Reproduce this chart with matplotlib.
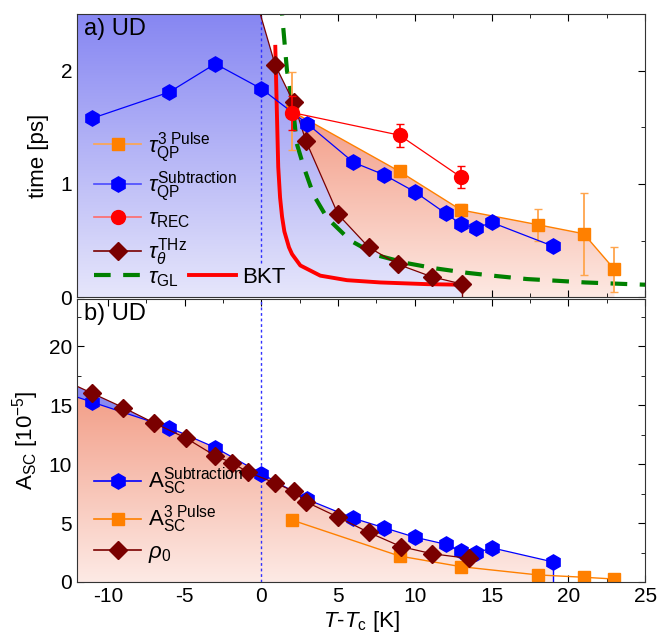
import numpy as np
import matplotlib
matplotlib.use('Agg')
import matplotlib.pyplot as plt
from matplotlib.lines import Line2D
from matplotlib.colors import LinearSegmentedColormap

plt.rcParams['font.family'] = ['Liberation Sans', 'DejaVu Sans']
plt.rcParams['mathtext.fontset'] = 'custom'
plt.rcParams['mathtext.rm'] = 'Liberation Sans'
plt.rcParams['mathtext.it'] = 'Liberation Sans:italic'
plt.rcParams['mathtext.bf'] = 'Liberation Sans:bold'
plt.rcParams['axes.unicode_minus'] = False

# ---- panel a) relaxation times ----
# tau_QP subtraction (blue hexagons)
qp_sub_x = [-11, -6, -3, 0, 3, 6, 8, 10, 12, 13, 14, 15, 19]
qp_sub_y = [1.58, 1.81, 2.06, 1.84, 1.53, 1.19, 1.08, 0.93, 0.74, 0.645, 0.61, 0.66, 0.45]
qp_sub_err = [0.02, 0.02, 0.03, 0.04, 0.03, 0.04, 0.02, 0.02, 0.02, 0.02, 0.02, 0.02, 0.02]

# tau_QP 3 pulse (orange squares)
qp_3p_x = [2, 9, 13, 18, 21, 23]
qp_3p_y = [1.64, 1.11, 0.77, 0.64, 0.56, 0.245]
qp_3p_err = [0.345, 0.05, 0.05, 0.14, 0.36, 0.2]

# tau_REC (red circles)
rec_x = [2, 9, 13]
rec_y = [1.63, 1.43, 1.06]
rec_err = [0.15, 0.1, 0.1]

# tau_theta THz (dark red diamonds), first point lies above the frame
theta_x = [-0.5, 0.9, 2.1, 2.9, 5.0, 7.0, 8.9, 11.1, 13.1]
theta_y = [2.7, 2.05, 1.72, 1.38, 0.73, 0.44, 0.29, 0.18, 0.115]

# tau_GL (green dashed)
gl_x = [1.2, 1.35, 1.67, 2.06, 2.3, 2.76, 3.41, 4.28, 5.8, 7.53, 9.49, 11.3,
        13.4, 15.35, 17.3, 19.25, 21.1, 23.0, 25.0]
gl_y = [2.7, 2.5, 2.0, 1.68, 1.36, 1.15, 0.90, 0.70, 0.50, 0.37, 0.30, 0.255,
        0.215, 0.186, 0.16, 0.145, 0.13, 0.12, 0.11]

# BKT (thick red)
bkt_x = [0.91, 1.0, 1.1, 1.22, 1.35, 1.5, 1.8, 2.0, 2.54, 3.84, 5.58, 7.75, 10.8, 13.07]
bkt_y = [2.21, 1.70, 1.15, 0.88, 0.71, 0.58, 0.44, 0.38, 0.28, 0.19, 0.15, 0.13, 0.115, 0.11]

# ---- panel b) amplitudes ----
# first point of each line sits left of the frame
asc_sub_x = [-12.5, -11, -6, -3, 0, 3, 6, 8, 10, 12, 13, 14, 15, 19]
asc_sub_y = [15.9, 15.25, 13.1, 11.4, 9.2, 7.0, 5.4, 4.6, 3.8, 3.2, 2.6, 2.45, 2.9, 1.7]

asc_3p_x = [2, 9, 13, 18, 21, 23]
asc_3p_y = [5.25, 2.2, 1.3, 0.6, 0.4, 0.25]

rho0_x = [-12.5, -11, -9, -7, -4.9, -3, -1.9, -0.85, 0.9, 2.1, 2.9, 5.0, 7.0, 9.1, 11.1, 13.5]
rho0_y = [16.9, 16.0, 14.8, 13.5, 12.2, 10.7, 10.1, 9.3, 8.4, 7.7, 6.8, 5.5, 4.2, 3.0, 2.4, 2.0]

BLUE = '#0000ff'
ORANGE = '#ff8000'
RED = '#ff0000'
DRED = '#7a0000'
GREEN = '#008000'


def grad_fill(ax, x, y, c_top, c_bot, y_top, z):
    poly = ax.fill_between(x, 0, y, facecolor='none', edgecolor='none', zorder=z)
    path = poly.get_paths()[0]
    cmap = LinearSegmentedColormap.from_list('g', [c_bot, c_top])
    grad = np.linspace(0, 1, 256).reshape(-1, 1)
    im = ax.imshow(grad, cmap=cmap, aspect='auto', origin='lower',
                   extent=[min(x), max(x), 0, y_top], zorder=z)
    im.set_clip_path(path, transform=ax.transData)


fig = plt.figure(figsize=(6.59, 6.35), dpi=100)
ax1 = fig.add_axes([0.117, 0.532, 0.862, 0.446])
ax2 = fig.add_axes([0.117, 0.0835, 0.862, 0.4455])

# ----- top panel -----
grad_fill(ax1, qp_3p_x, qp_3p_y, '#f39c86', '#fde9e3', 1.64, 1)
grad_fill(ax1, [-12.5] + theta_x, [2.7] + theta_y, '#8686f2', '#e6e6fb', 2.5, 2)
ax1.vlines(theta_x[-1], 0, theta_y[-1], color=DRED, lw=1, zorder=3)
ax1.vlines(0, 0.3, 2.5, color='#3030ff', lw=1, linestyle=(0, (2, 2)), zorder=3)

ax1.plot(gl_x, gl_y, color=GREEN, lw=3, dashes=(4, 3), zorder=4)
ax1.plot(bkt_x, bkt_y, color=RED, lw=2.8, zorder=4)

ax1.errorbar(qp_3p_x, qp_3p_y, yerr=qp_3p_err, color=ORANGE, lw=1, marker='s', ms=9,
             ecolor='#ffa54d', elinewidth=1.3, capsize=3, zorder=5)
ax1.errorbar(qp_sub_x, qp_sub_y, yerr=qp_sub_err, color=BLUE, lw=0.9, marker='h', ms=11,
             elinewidth=1, capsize=2, zorder=6)
ax1.plot(theta_x, theta_y, color=DRED, lw=0.9, marker='D', ms=9, zorder=6)
ax1.errorbar(rec_x, rec_y, yerr=rec_err, color=RED, lw=0.9, marker='o', ms=10,
             elinewidth=1.2, capsize=3, zorder=7)

ax1.set_xlim(-12, 25)
ax1.set_ylim(0, 2.5)
ax1.set_yticks([0, 1, 2])
ax1.set_yticks([0.5, 1.5, 2.5], minor=True)
ax1.set_xticks(np.arange(-10, 26, 5))
ax1.set_xticks(np.arange(-7.5, 25, 5), minor=True)
ax1.tick_params(labelbottom=False)
ax1.set_ylabel('time [ps]', fontsize=16, labelpad=8)
ax1.text(0.012, 0.985, 'a) UD', transform=ax1.transAxes, fontsize=17, va='top', zorder=9)

h1 = [Line2D([], [], color='#ffa54d', lw=1.2, marker='s', ms=9, mfc=ORANGE, mec=ORANGE),
      Line2D([], [], color='#4a4aff', lw=1.2, marker='h', ms=11, mfc=BLUE, mec=BLUE),
      Line2D([], [], color='#ff6a6a', lw=1.2, marker='o', ms=10, mfc=RED, mec=RED),
      Line2D([], [], color=DRED, lw=1.2, marker='D', ms=9, mfc=DRED, mec=DRED)]
l1 = [r'$\tau_\mathrm{QP}^\mathrm{3\ Pulse}$', r'$\tau_\mathrm{QP}^\mathrm{Subtraction}$',
      r'$\tau_\mathrm{REC}$', r'$\tau_\theta^\mathrm{THz}$']
leg1 = ax1.legend(h1, l1, loc='upper left', bbox_to_anchor=(-0.005, 0.66), frameon=False,
                  fontsize=16, handlelength=2.1, handletextpad=0.3, labelspacing=0.25)
ax1.add_artist(leg1)
leg1.set_zorder(9)
h2 = [Line2D([], [], color=GREEN, lw=3, dashes=(4, 3)), Line2D([], [], color=RED, lw=2.8)]
leg2 = ax1.legend(h2, [r'$\tau_\mathrm{GL}$', 'BKT'], loc='lower left', bbox_to_anchor=(-0.005, -0.04),
                  frameon=False, fontsize=16, ncol=2, handlelength=2.1, handletextpad=0.3,
                  columnspacing=0.5)
leg2.set_zorder(9)

# ----- bottom panel -----
grad_fill(ax2, rho0_x, rho0_y, '#8a8af0', '#8a8af0', 24, 1)
grad_fill(ax2, asc_sub_x, asc_sub_y, '#f29c85', '#fdeae5', 16.5, 2)
ax2.vlines(asc_sub_x[-1], 0, asc_sub_y[-1], color=BLUE, lw=1, zorder=3)
ax2.vlines(0, 0, 24, color='#3030ff', lw=1, linestyle=(0, (2, 2)), zorder=3)

ax2.plot(asc_3p_x, asc_3p_y, color=ORANGE, lw=1, marker='s', ms=9, zorder=5)
ax2.plot(asc_sub_x, asc_sub_y, color=BLUE, lw=0.9, marker='h', ms=11, zorder=6,
         markevery=slice(1, None))
ax2.plot(rho0_x, rho0_y, color=DRED, lw=0.9, marker='D', ms=9, zorder=7,
         markevery=slice(1, None))

ax2.set_xlim(-12, 25)
ax2.set_ylim(0, 24)
ax2.set_yticks([0, 5, 10, 15, 20])
ax2.set_yticks([2.5, 7.5, 12.5, 17.5, 22.5], minor=True)
ax2.set_xticks(np.arange(-10, 26, 5))
ax2.set_xticks(np.arange(-7.5, 25, 5), minor=True)
ax2.set_ylabel(r'A$_\mathrm{SC}$ [10$^{-5}$]', fontsize=16, labelpad=6)
ax2.set_xlabel(r'$T$-$T_\mathrm{c}$ [K]', fontsize=16, labelpad=2)
ax2.text(0.012, 0.985, 'b) UD', transform=ax2.transAxes, fontsize=17, va='top', zorder=9)

h3 = [Line2D([], [], color=BLUE, lw=1.2, marker='h', ms=11),
      Line2D([], [], color=ORANGE, lw=1.2, marker='s', ms=9),
      Line2D([], [], color=DRED, lw=1.2, marker='D', ms=9)]
l3 = [r'A$_\mathrm{SC}^\mathrm{Subtraction}$', r'A$_\mathrm{SC}^\mathrm{3\ Pulse}$', r'$\rho_0$']
leg3 = ax2.legend(h3, l3, loc='lower left', bbox_to_anchor=(-0.005, -0.01), frameon=False,
                  fontsize=16, handlelength=2.1, handletextpad=0.3, labelspacing=0.3)
leg3.set_zorder(9)

for ax in (ax1, ax2):
    ax.tick_params(which='both', direction='in', top=True, right=True, labelsize=15)
    ax.tick_params(which='major', length=5)
    ax.tick_params(which='minor', length=3)
    for s in ax.spines.values():
        s.set_color('#333333')
        s.set_zorder(10)

fig.savefig('out.png', dpi=100)
